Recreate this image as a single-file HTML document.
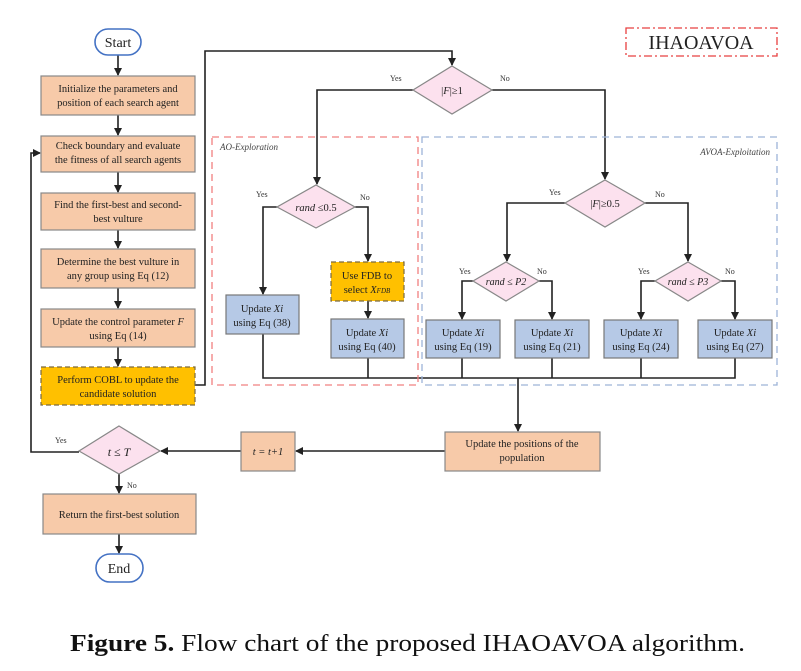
<!DOCTYPE html>
<html><head><meta charset="utf-8"><style>
html,body{margin:0;padding:0;background:#fff;}
svg{display:block;font-family:"Liberation Serif",serif;}
</style></head><body>
<svg width="801" height="671" viewBox="0 0 801 671" xmlns="http://www.w3.org/2000/svg">
<defs>
<marker id="a" markerWidth="8" markerHeight="8" refX="7" refY="4" orient="auto" markerUnits="userSpaceOnUse">
<path d="M0,0 L8,4 L0,8 z" fill="#222"/></marker>
</defs>
<g stroke="#222" stroke-width="1.6" fill="none">
<line x1="118" y1="55" x2="118" y2="75" marker-end="url(#a)"/>
<line x1="118" y1="115" x2="118" y2="135" marker-end="url(#a)"/>
<line x1="118" y1="172" x2="118" y2="192" marker-end="url(#a)"/>
<line x1="118" y1="230" x2="118" y2="248" marker-end="url(#a)"/>
<line x1="118" y1="288" x2="118" y2="308" marker-end="url(#a)"/>
<line x1="118" y1="347" x2="118" y2="366" marker-end="url(#a)"/>
<polyline points="195,385 205,385 205,51 452,51 452,65" marker-end="url(#a)"/>
<polyline points="413,90 317,90 317,184" marker-end="url(#a)"/>
<polyline points="492,90 605,90 605,179" marker-end="url(#a)"/>
<polyline points="277,207 263,207 263,294" marker-end="url(#a)"/>
<polyline points="355,207 368,207 368,261" marker-end="url(#a)"/>
<line x1="368" y1="301" x2="368" y2="318" marker-end="url(#a)"/>
<polyline points="565,203 507,203 507,261" marker-end="url(#a)"/>
<polyline points="645,203 688,203 688,261" marker-end="url(#a)"/>
<polyline points="473,281 462,281 462,319" marker-end="url(#a)"/>
<polyline points="539,281 552,281 552,319" marker-end="url(#a)"/>
<polyline points="655,281 641,281 641,319" marker-end="url(#a)"/>
<polyline points="721,281 735,281 735,319" marker-end="url(#a)"/>
<polyline points="263,334 263,378 735,378 735,358"/>
<line x1="368" y1="358" x2="368" y2="378"/>
<line x1="462" y1="358" x2="462" y2="378"/>
<line x1="552" y1="358" x2="552" y2="378"/>
<line x1="641" y1="358" x2="641" y2="378"/>
<line x1="518" y1="378" x2="518" y2="431" marker-end="url(#a)"/>
<line x1="445" y1="451" x2="296" y2="451" marker-end="url(#a)"/>
<line x1="241" y1="451" x2="161" y2="451" marker-end="url(#a)"/>
<polyline points="79,452 31,452 31,153 40,153" marker-end="url(#a)"/>
<line x1="119" y1="473" x2="119" y2="493" marker-end="url(#a)"/>
<line x1="119" y1="534" x2="119" y2="553" marker-end="url(#a)"/>
</g>
<rect x="212" y="137" width="206" height="248" fill="none" stroke="#f08080" stroke-width="1.3" stroke-dasharray="7,5"/>
<rect x="422" y="137" width="355" height="248" fill="none" stroke="#9db4d8" stroke-width="1.3" stroke-dasharray="7,5"/>
<rect x="626" y="28" width="151" height="28" fill="none" stroke="#e84040" stroke-width="1.3" stroke-dasharray="8,3,2,3"/>
<text x="701" y="49" font-size="20" text-anchor="middle" fill="#222">IHAOAVOA</text>
<text x="220" y="150" font-size="9" font-style="italic" fill="#444">AO-Exploration</text>
<text x="770" y="155" font-size="9" font-style="italic" fill="#444" text-anchor="end">AVOA-Exploitation</text>
<rect x="95" y="29" width="46" height="26" rx="13" fill="#fff" stroke="#4472c4" stroke-width="1.6"/>
<text x="118" y="47" font-size="14" text-anchor="middle" fill="#222">Start</text>
<rect x="96" y="554" width="47" height="28" rx="14" fill="#fff" stroke="#4472c4" stroke-width="1.6"/>
<text x="119" y="573" font-size="14" text-anchor="middle" fill="#222">End</text>
<g fill="#f7caa9" stroke="#888" stroke-width="1.2">
<rect x="41" y="76" width="154" height="39"/>
<rect x="41" y="136" width="154" height="36"/>
<rect x="41" y="193" width="154" height="37"/>
<rect x="41" y="249" width="154" height="39"/>
<rect x="41" y="309" width="154" height="38"/>
<rect x="445" y="432" width="155" height="39"/>
<rect x="241" y="432" width="54" height="39"/>
<rect x="43" y="494" width="153" height="40"/>
</g>
<rect x="41" y="367" width="154" height="38" fill="#ffc000" stroke="#7a6a40" stroke-width="1.2" stroke-dasharray="5,3"/>
<rect x="331" y="262" width="73" height="39" fill="#ffc000" stroke="#7a6a40" stroke-width="1.2" stroke-dasharray="5,3"/>
<g fill="#b6c9e6" stroke="#777" stroke-width="1.2">
<rect x="226" y="295" width="73" height="39"/>
<rect x="331" y="319" width="73" height="39"/>
<rect x="426" y="320" width="74" height="38"/>
<rect x="515" y="320" width="74" height="38"/>
<rect x="604" y="320" width="74" height="38"/>
<rect x="698" y="320" width="74" height="38"/>
</g>
<g fill="#fce1ee" stroke="#888" stroke-width="1.2">
<polygon points="452,66 492,90 452,114 413,90"/>
<polygon points="316,185 355,207 316,228 277,207"/>
<polygon points="605,180 645,203 605,227 565,203"/>
<polygon points="506,262 539,281 506,301 473,281"/>
<polygon points="688,262 721,281 688,301 655,281"/>
<polygon points="119,426 160,451 119,474 79,451"/>
</g>
<g font-size="10.5" fill="#222" text-anchor="middle">
<text x="118" y="92">Initialize the parameters and</text>
<text x="118" y="106">position of each search agent</text>
<text x="118" y="149">Check boundary and evaluate</text>
<text x="118" y="163">the fitness of all search agents</text>
<text x="118" y="208">Find the first-best and second-</text>
<text x="118" y="222">best vulture</text>
<text x="118" y="265">Determine the best vulture in</text>
<text x="118" y="279">any group using Eq (12)</text>
<text x="118" y="325">Update the control parameter <tspan font-style="italic">F</tspan></text>
<text x="118" y="339">using Eq (14)</text>
<text x="118" y="383">Perform COBL to update the</text>
<text x="118" y="397">candidate solution</text>
<text x="522" y="447">Update the positions of the</text>
<text x="522" y="461">population</text>
<text x="268" y="455" font-style="italic">t = t+1</text>
<text x="119" y="518">Return the first-best solution</text>
<text x="367" y="279">Use FDB to</text>
<text x="367" y="293">select <tspan font-style="italic">X</tspan><tspan font-size="7" font-style="italic">FDB</tspan></text>
<text x="262" y="312">Update <tspan font-style="italic">Xi</tspan></text>
<text x="262" y="326">using Eq (38)</text>
<text x="367" y="336">Update <tspan font-style="italic">Xi</tspan></text>
<text x="367" y="350">using Eq (40)</text>
<text x="463" y="336">Update <tspan font-style="italic">Xi</tspan></text>
<text x="463" y="350">using Eq (19)</text>
<text x="552" y="336">Update <tspan font-style="italic">Xi</tspan></text>
<text x="552" y="350">using Eq (21)</text>
<text x="641" y="336">Update <tspan font-style="italic">Xi</tspan></text>
<text x="641" y="350">using Eq (24)</text>
<text x="735" y="336">Update <tspan font-style="italic">Xi</tspan></text>
<text x="735" y="350">using Eq (27)</text>
<text x="452" y="94">|<tspan font-style="italic">F</tspan>|≥1</text>
<text x="316" y="211"><tspan font-style="italic">rand</tspan> ≤0.5</text>
<text x="605" y="207">|<tspan font-style="italic">F</tspan>|≥0.5</text>
<text x="506" y="285" font-style="italic" font-size="10">rand ≤ P2</text>
<text x="688" y="285" font-style="italic" font-size="10">rand ≤ P3</text>
<text x="119" y="456" font-style="italic" font-size="12">t ≤ T</text>
</g>
<g font-size="8" fill="#333">
<text x="390" y="81">Yes</text><text x="500" y="81">No</text>
<text x="256" y="197">Yes</text><text x="360" y="200">No</text>
<text x="549" y="195">Yes</text><text x="655" y="197">No</text>
<text x="459" y="274">Yes</text><text x="537" y="274">No</text>
<text x="638" y="274">Yes</text><text x="725" y="274">No</text>
<text x="55" y="443">Yes</text><text x="127" y="488">No</text>
</g>
<text x="70" y="651" font-size="24" fill="#111" textLength="675" lengthAdjust="spacingAndGlyphs"><tspan font-weight="bold">Figure 5.</tspan> Flow chart of the proposed IHAOAVOA algorithm.</text>
</svg>
</body></html>
